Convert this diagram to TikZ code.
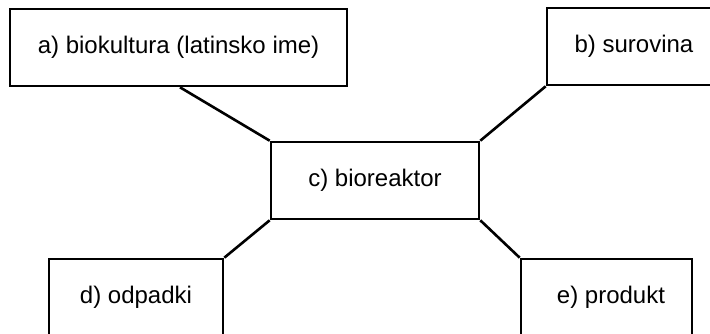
\documentclass[tikz,border=0pt]{standalone}
\usepackage{fontspec}
\setmainfont{Liberation Sans}
\begin{document}
\begin{tikzpicture}[x=1pt,y=-1pt,
  box/.style={draw=black, line width=2.6pt, fill=white, inner sep=0pt, minimum height=77pt, font=\fontsize{24}{28}\selectfont},
  conn/.style={draw=black, line width=2.6pt}]
\useasboundingbox (0,0) rectangle (710,334);
\clip (0,0) rectangle (710,334);
\node[box, minimum width=337pt] (a) at (178.5,47.5) {a) biokultura (latinsko ime)};
\node[box, minimum width=174pt] (b) at (634,46.5) {b) surovina};
\node[box, minimum width=208pt] (c) at (375,180.5) {c) bioreaktor};
\node[box, minimum width=174pt] (d) at (136,297.5) {\raisebox{-2pt}{d) odpadki}};
\node[box, minimum width=171pt] (e) at (606.5,297.5) {\hspace*{9pt}\raisebox{-2pt}{e) produkt}};
\draw[conn] ([xshift=1.5pt]a.south) -- (c.north west);
\draw[conn] (b.south west) -- (c.north east);
\draw[conn] (c.south west) -- (d.north east);
\draw[conn] (c.south east) -- (e.north west);
\end{tikzpicture}
\end{document}
